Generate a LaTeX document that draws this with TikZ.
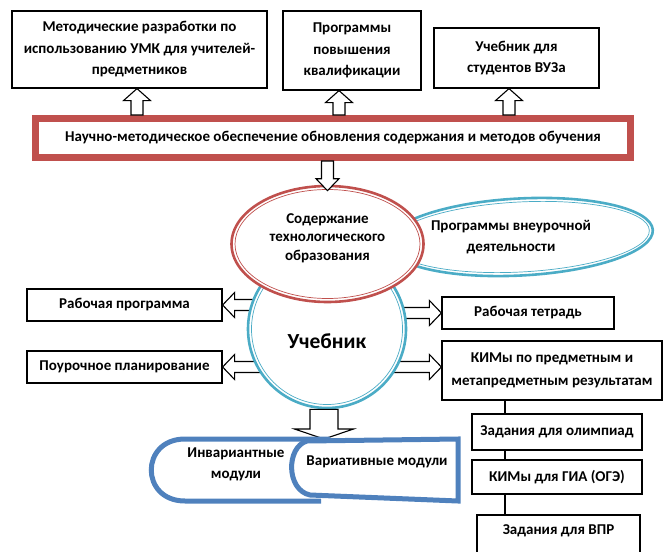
\documentclass[tikz,border=0pt]{standalone}
\usepackage{fontspec}
\setmainfont{Carlito}
\usetikzlibrary{shapes.geometric,calc}

\definecolor{redline}{HTML}{C0504D}
\definecolor{tealline}{HTML}{4BACC6}
\definecolor{modblue}{HTML}{4F81BD}

% hollow block arrow: half shaft width, half head width, head length
\tikzset{
  fat/.style n args={3}{draw,fill=white,line width=1.1pt,
    to path={
      ($(\tikztostart)!#1!90:(\tikztotarget)$)
      -- ($($(\tikztotarget)!#3!(\tikztostart)$)!#1!-90:(\tikztostart)$)
      -- ($($(\tikztotarget)!#3!(\tikztostart)$)!#2!-90:(\tikztostart)$)
      -- (\tikztotarget)
      -- ($($(\tikztotarget)!#3!(\tikztostart)$)!#2!90:(\tikztostart)$)
      -- ($($(\tikztotarget)!#3!(\tikztostart)$)!#1!90:(\tikztostart)$)
      -- ($(\tikztostart)!#1!-90:(\tikztotarget)$)
      -- cycle}},
}

\begin{document}
\begin{tikzpicture}
  [x=1pt,y=-1pt,
   every node/.style={font=\bfseries\fontsize{15}{21.5}\selectfont,align=center,inner sep=0pt},
   box/.style={draw,line width=1.2pt,fill=white},
   ring/.style={ellipse,draw=#1,line width=2.6pt,fill=white},
   modline/.style={draw=modblue,line width=5pt}]

  \useasboundingbox (0,0) rectangle (663,551);
  \coordinate (cc) at (327,329);

  \node[box,minimum width=195,minimum height=32] (rp) at (124.5,305) {Рабочая программа};
  \node[box,minimum width=195,minimum height=32] (pp) at (124.5,367) {Поурочное планирование};
  \node[box,minimum width=172,minimum height=32] (rt) at (528,313) {Рабочая тетрадь};
  \node[box,minimum width=220,minimum height=59,font=\bfseries\fontsize{15}{23}\selectfont] (kim) at (552,370.5) {КИМы по предметным и\\метапредметным результатам};

  \draw[fat={5.5pt}{12.5pt}{12pt}] (cc |- rp.east) to (rp.east);
  \draw[fat={5.5pt}{12.5pt}{12pt}] (cc |- pp.east) to (pp.east);
  \draw[fat={5.5pt}{12.5pt}{12pt}] (cc |- rt.west) to (rt.west);
  \draw[fat={5.5pt}{12.5pt}{12pt}] (cc |- pp.east) to (kim.west |- pp.east);

  \node[circle,draw=tealline,line width=2.6pt,fill=white,minimum size=158] (circ) at (cc) {};
  \draw[tealline,line width=0.7pt] (circ.center) circle [radius=75.5];
  \node[font=\bfseries\fontsize{21.5}{24}\selectfont] (uch) at (327,341) {Учебник};
  \node[ring=tealline,rotate=3,minimum width=266,minimum height=77] (vneur) at (520,237) {};
  \draw[tealline,line width=0.7pt,rotate around={3:(vneur.center)}] (vneur.center) ellipse [x radius=129.5,y radius=35];
  \node (vneurtxt) at (511,237) {Программы внеурочной\\деятельности};
  \node[ring=redline,minimum width=192,minimum height=116] (ell) at (327.5,244) {};
  \draw[redline,line width=0.7pt] (ell.center) ellipse [x radius=92.5,y radius=54.5];
  \node[font=\bfseries\fontsize{15}{18.5}\selectfont] (ellt) at (327.5,238) {Содержание\\технологического\\образования};

  \node[box,minimum width=255,minimum height=77] (b1) at (139.5,49.5) {Методические разработки по\\использованию УМК для учителей-\\предметников};
  \node[box,minimum width=138,minimum height=79] (b2) at (352,50.5) {Программы\\повышения\\квалификации};
  \node[box,minimum width=165,minimum height=60,font=\bfseries\fontsize{15}{21}\selectfont] (b3) at (516.5,58) {Учебник для\\студентов ВУЗа};
  \node[draw=redline,line width=7pt,fill=white,minimum width=595,minimum height=39] (nmo) at (333,138) {Научно-методическое обеспечение обновления содержания и методов обучения};

  \draw[fat={6pt}{13.5pt}{12pt}] ($(b1.south |- nmo.north)+(-2.5,0)$) to ($(b1.south)+(-2.5,0)$);
  \draw[fat={6pt}{13.5pt}{12pt}] ($(b2.south |- nmo.north)+(-13,0)$) to ($(b2.south)+(-13,0)$);
  \draw[fat={6pt}{13.5pt}{12pt}] ($(b3.south |- nmo.north)+(-7.5,0)$) to ($(b3.south)+(-7.5,0)$);
  \draw[fat={6pt}{11.5pt}{12pt}] (nmo.south -| ell.north) to ($(ell.north)+(0,6)$);

  \node[box,minimum width=170,minimum height=36] (olymp) at (557,432) {Задания для олимпиад};
  \node[box,minimum width=170,minimum height=34] (gia) at (557,477) {КИМы для ГИА (ОГЭ)};
  \node[box,minimum width=163,minimum height=46,text depth=16pt] (vpr) at (558.5,538) {Задания для ВПР};
  \coordinate (lx) at (505,0);
  \draw[line width=1.2pt] (kim.south -| lx) -- (olymp.north -| lx);
  \draw[line width=1.2pt] (olymp.south -| lx) -- (gia.north -| lx);
  \draw[line width=1.2pt] (gia.south -| lx) -- (vpr.north -| lx);

  % modules
  \coordinate (modtop) at (324,439);
  \draw[fat={14pt}{29.5pt}{10pt}] (circ.south -| modtop) to (modtop);
  \draw[modline] (321,501) -- (185,501) .. controls (140,501) and (140,439) .. (185,439) -- (330,439);
  \draw[modline,fill=white] (458,439) -- (307,441) .. controls (286,447) and (286,490) .. (310,495) -- (458,501) -- cycle;
  \node (inv) at (236,464.5) {Инвариантные\\модули};
  \node (var) at (377,462) {Вариативные модули};
\end{tikzpicture}
\end{document}
